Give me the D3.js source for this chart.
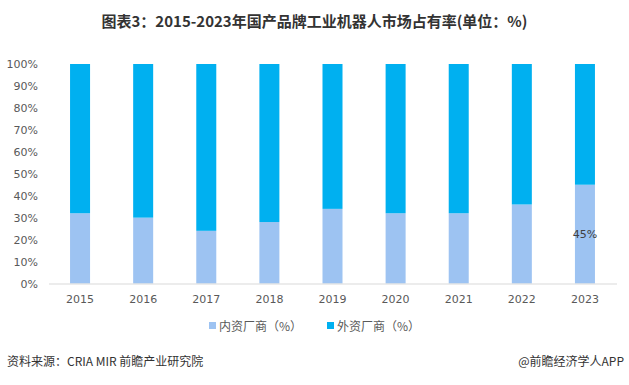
<!DOCTYPE html>
<html><head><meta charset="utf-8">
<script src="https://cdn.jsdelivr.net/npm/d3@7"></script>
<style>body{margin:0;background:#fff;}svg{display:block;font-family:"Microsoft YaHei","Noto Sans CJK SC",sans-serif;}</style>
</head><body><svg id="c" width="629" height="385"></svg>
<script>
const years = ["2015","2016","2017","2018","2019","2020","2021","2022","2023"];
const domestic = [32, 30, 24, 28, 34, 32, 32, 36, 45];
const foreign = domestic.map(d => 100 - d);
const yTicks = [0,10,20,30,40,50,60,70,80,90,100];
const seriesNames = ["内资厂商（%）","外资厂商（%）"];
const colors = ["#9DC3F2","#00B0F0"];

const svg = d3.select("#c");
const x = d3.scaleBand().domain(years).range([48.5,616.5]).paddingInner(0.683).paddingOuter(0.3415);
const y = d3.scaleLinear().domain([0,100]).range([283.5,64]);

svg.append("text").attr("x",314.5).attr("y",27).attr("text-anchor","middle")
  .attr("font-size",15).attr("font-weight","bold").attr("fill","#333")
  .attr("font-family","'Liberation Sans Narrow','Noto Sans CJK SC',sans-serif")
  .text("图表3：2015-2023年国产品牌工业机器人市场占有率(单位：%)");

const stacked = years.map((yr,i)=>({yr, d:domestic[i], f:foreign[i]}));
const g = svg.append("g");
g.selectAll(".dom").data(stacked).join("rect")
  .attr("x",d=>x(d.yr)).attr("width",x.bandwidth())
  .attr("y",d=>y(d.d)).attr("height",d=>y(0)-y(d.d)).attr("fill",colors[0]);
g.selectAll(".for").data(stacked).join("rect")
  .attr("x",d=>x(d.yr)).attr("width",x.bandwidth())
  .attr("y",d=>y(d.d+d.f)).attr("height",d=>y(d.d)-y(d.d+d.f)).attr("fill",colors[1]);

const yAxis = d3.axisLeft(y).tickValues(yTicks).tickFormat(d=>d+"%").tickSize(0).tickPadding(10);
const ya = svg.append("g").attr("transform","translate(48,0)").call(yAxis);
ya.select(".domain").remove();
ya.selectAll("text").attr("font-size",11).attr("fill","#595959").attr("font-family","'DejaVu Sans',sans-serif");

const xAxis = d3.axisBottom(x).tickSize(0).tickPadding(12);
const xa = svg.append("g").attr("transform","translate(0,283.5)").call(xAxis);
xa.select(".domain").attr("stroke","#d9d9d9");
xa.selectAll("text").attr("font-size",11).attr("fill","#595959").attr("font-family","'DejaVu Sans',sans-serif");

// data label for 2023
const last = stacked[stacked.length-1];
svg.append("text").attr("x",x(last.yr)+x.bandwidth()/2).attr("y",y(last.d/2)+4)
  .attr("text-anchor","middle").attr("font-size",11).attr("fill","#404040")
  .attr("font-family","'DejaVu Sans',sans-serif").text(last.d+"%");

// legend
const lg = svg.append("g");
const lx = [209, 327];
seriesNames.forEach((n,i)=>{
  lg.append("rect").attr("x",lx[i]).attr("y",322).attr("width",7).attr("height",7).attr("fill",colors[i]);
  lg.append("text").attr("x",lx[i]+10).attr("y",331).attr("font-size",12).attr("fill","#595959").text(n);
});

svg.append("text").attr("x",7).attr("y",366).attr("font-size",12).attr("fill","#333").text("资料来源：CRIA MIR 前瞻产业研究院");
svg.append("text").attr("x",624).attr("y",366).attr("text-anchor","end").attr("font-size",12).attr("fill","#333").text("@前瞻经济学人APP");
</script></body></html>
